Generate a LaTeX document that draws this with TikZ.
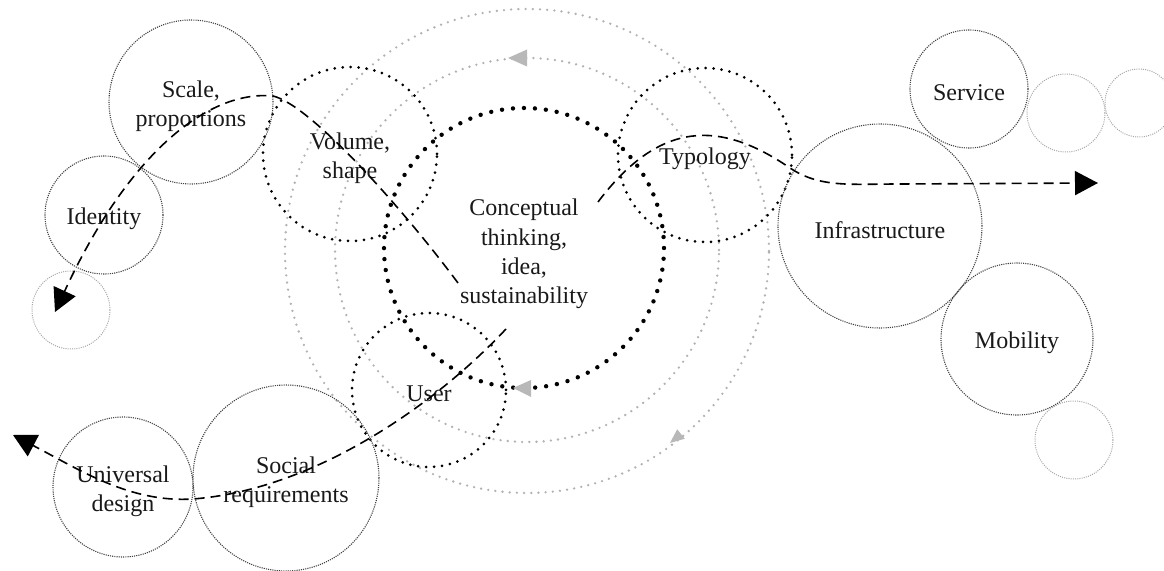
\documentclass[tikz,border=0pt]{standalone}
\usepackage{fontspec}
\setmainfont{Liberation Serif}
\usetikzlibrary{arrows.meta}
\newcommand\lblfont{\fontsize{12}{14.7}\selectfont}
\begin{document}
\begin{tikzpicture}[x=0.5pt,y=-0.5pt,
  base/.style={circle, inner sep=0pt},
  txt/.style={align=center, font=\lblfont, text=black!90, inner sep=0pt, yshift=-2pt},
  thinring/.style={base, draw=black!75, line width=0.55pt, dash pattern=on 0.55pt off 0.55pt},
  paleRing/.style={base, draw=black!35, line width=0.5pt, dash pattern=on 0.5pt off 0.6pt},
  boldring/.style={base, draw=black, line width=1.5pt, line cap=round, dash pattern=on 0pt off 4pt},
  heavyring/.style={base, draw=black, line width=2.2pt, line cap=round, dash pattern=on 0pt off 5.5pt},
  grayring/.style={base, draw=black!30, line width=1.3pt, line cap=round, dash pattern=on 0pt off 3.6pt},
  dasharrow/.style={draw=black, line width=0.8pt, dash pattern=on 5pt off 3pt, -{Triangle[length=11.5pt,width=12pt]}},
  graytip/.style={fill=black!28}
]
\useasboundingbox (0,0) rectangle (1164,571);

% gray concentric rings
\node[grayring, minimum size=242pt] (outerg) at (527,251) {};
\node[grayring, minimum size=192pt] (innerg) at (527,250) {};

% central circle
\node[heavyring, minimum size=140pt, label={[txt, yshift=-1pt]center:{Conceptual\\thinking,\\idea,\\sustainability}}] (core) at (524,248) {};

% bold dotted satellites
\node[boldring, minimum size=87pt, label={[txt]center:{Volume,\\shape}}] (volume) at (350,154) {};
\node[boldring, minimum size=87pt, label={[txt]center:{Typology}}] (typology) at (705,155) {};
\node[boldring, minimum size=77pt, label={[txt]center:{User}}] (user) at (429,390) {};

% thin dotted circles
\node[thinring, minimum size=82pt, label={[txt]center:{Scale,\\proportions}}] (scale) at (191,102) {};
\node[thinring, minimum size=59pt, label={[txt]center:{Identity}}] (identity) at (104,215) {};
\node[thinring, minimum size=70pt, label={[txt]center:{Universal\\design}}] (universal) at (123,487) {};
\node[thinring, minimum size=93pt, label={[txt]center:{Social\\requirements}}] (social) at (286,478) {};
\node[thinring, minimum size=59pt, label={[txt]center:{Service}}] (service) at (969,89) {};
\node[thinring, minimum size=102pt, label={[txt]center:{Infrastructure}}] (infra) at (880,226) {};
\node[thinring, minimum size=76pt, label={[txt]center:{Mobility}}] (mobility) at (1017,339) {};

% pale empty circles
\node[paleRing, minimum size=39pt] (p1) at (71,310) {};
\node[paleRing, minimum size=39pt] (p2) at (1066,113) {};
\node[paleRing, minimum size=34pt] (p3) at (1139,103) {};
\node[paleRing, minimum size=39pt] (p4) at (1074,440) {};

% gray arrow tips on the rings
\fill[graytip] (508,58) -- (527,49.5) -- (527,66.5) -- cycle;
\fill[graytip] (513,388) -- (531,380) -- (531,397) -- cycle;
\fill[graytip] (670,443) -- (684.8,438.7) -- (677.2,429.3) -- cycle;

% dashed arrows
\coordinate (s1) at (458,283);
\coordinate (e1) at (55,312);
\coordinate (s2) at (598,202);
\coordinate (e2) at (1098,183);
\coordinate (s3) at (506,329);
\coordinate (e3) at (13,435);

\draw[dasharrow] (s1) .. controls (400,205) and (310,105) .. (273,96)
  .. controls (210,90) and (130,150) .. (e1);
\draw[dasharrow] (s2) .. controls (660,120) and (720,120) .. (790,168)
  .. controls (820,188) and (850,184) .. (900,184) -- (e2);
\draw[dasharrow] (s3) .. controls (430,410) and (310,490) .. (193,499)
  .. controls (130,503) and (80,470) .. (e3);
\end{tikzpicture}
\end{document}
